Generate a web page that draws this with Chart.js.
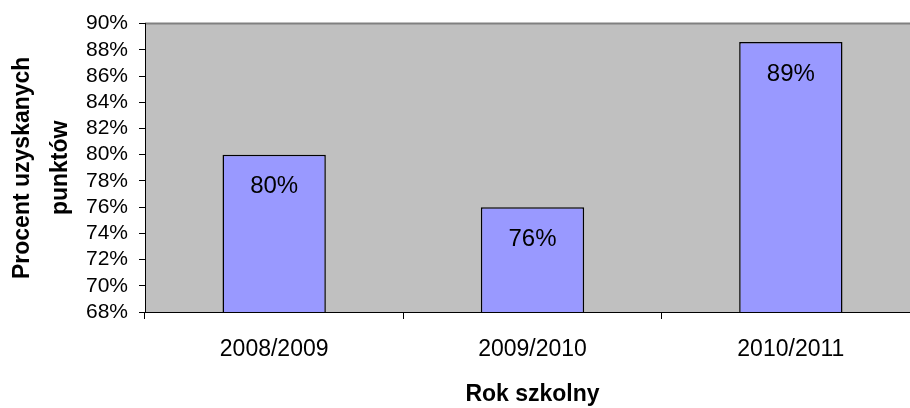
<!DOCTYPE html>
<html>
<head>
<meta charset="utf-8">
<script src="https://cdn.jsdelivr.net/npm/chart.js@4"></script>
<style>
    body { margin: 0; overflow: hidden; width: 910px; height: 408px; background: #fff; }
    #wrap { position: absolute; left: 0; top: 0; width: 940px; height: 408px; }
</style>
</head>
<body>
<div id="wrap"><canvas id="myChart" width="940" height="408"></canvas></div>
<script>
// chart data
const schoolYears = ["2008/2009", "2009/2010", "2010/2011"];
const pointsPercent = [80, 76, 88.6];
const yTicks = [68, 70, 72, 74, 76, 78, 80, 82, 84, 86, 88, 90];

const FONT = "'Liberation Sans', Arial, sans-serif";

// gray plot background + top border
const plotBg = {
    id: 'plotBg',
    beforeDraw(chart) {
        const { ctx, chartArea: a } = chart;
        ctx.save();
        ctx.fillStyle = '#C0C0C0';
        ctx.fillRect(a.left, a.top, a.right - a.left, a.bottom - a.top);
        ctx.strokeStyle = '#808080';
        ctx.lineWidth = 2;
        ctx.beginPath();
        ctx.moveTo(a.left, a.top);
        ctx.lineTo(a.right, a.top);
        ctx.stroke();
        ctx.restore();
    }
};

// value labels inside the bars
const barLabels = {
    id: 'barLabels',
    afterDatasetsDraw(chart) {
        const { ctx } = chart;
        const meta = chart.getDatasetMeta(0);
        ctx.save();
        ctx.font = '24px ' + FONT;
        ctx.fillStyle = '#000';
        ctx.textAlign = 'center';
        ctx.textBaseline = 'middle';
        meta.data.forEach((bar, i) => {
            ctx.fillText(Math.round(pointsPercent[i]) + '%', bar.x, bar.y + 32);
        });
        ctx.restore();
    }
};

const ctx1 = document.getElementById('myChart').getContext('2d');
let chart = new Chart(ctx1, {
    type: 'bar',
    data: {
        labels: schoolYears,
        datasets: [{
            data: pointsPercent,
            backgroundColor: '#9999FF',
            borderColor: '#000000',
            borderWidth: 1.5,
            borderSkipped: 'bottom',
            barPercentage: 0.4,
            categoryPercentage: 1
        }]
    },
    options: {
        responsive: false,
        animation: false,
        layout: { padding: { top: 22, right: 20, left: 0, bottom: 0 } },
        plugins: {
            legend: { display: false },
            tooltip: { enabled: false }
        },
        scales: {
            x: {
                offset: true,
                grid: {
                    offset: true,
                    drawOnChartArea: false,
                    color: '#000',
                    tickLength: 7
                },
                border: { display: true, color: '#000', width: 1 },
                ticks: {
                    color: '#000',
                    font: { family: FONT, size: 23 },
                    padding: 17,
                    maxRotation: 0,
                    autoSkip: false
                },
                title: {
                    display: true,
                    text: 'Rok szkolny',
                    color: '#000',
                    font: { family: FONT, size: 23, weight: 'bold' },
                    padding: { top: 0, bottom: 0 }
                },
                afterFit(scale) { scale.height = 96; }
            },
            y: {
                min: 68,
                max: 90,
                afterBuildTicks(scale) {
                    scale.ticks = yTicks.map(v => ({ value: v }));
                },
                grid: {
                    drawOnChartArea: false,
                    color: '#000',
                    tickLength: 6
                },
                border: { display: true, color: '#000', width: 1 },
                ticks: {
                    color: '#000',
                    font: { family: FONT, size: 21 },
                    padding: 11,
                    autoSkip: false,
                    callback: v => v + '%'
                },
                title: {
                    display: true,
                    text: ['Procent uzyskanych', 'punktów'],
                    color: '#000',
                    font: { family: FONT, size: 23, weight: 'bold', lineHeight: 1.65 },
                    padding: { top: 4, bottom: 0 }
                },
                afterFit(scale) { scale.width = 145; }
            }
        }
    },
    plugins: [plotBg, barLabels]
});
</script>
</body>
</html>
